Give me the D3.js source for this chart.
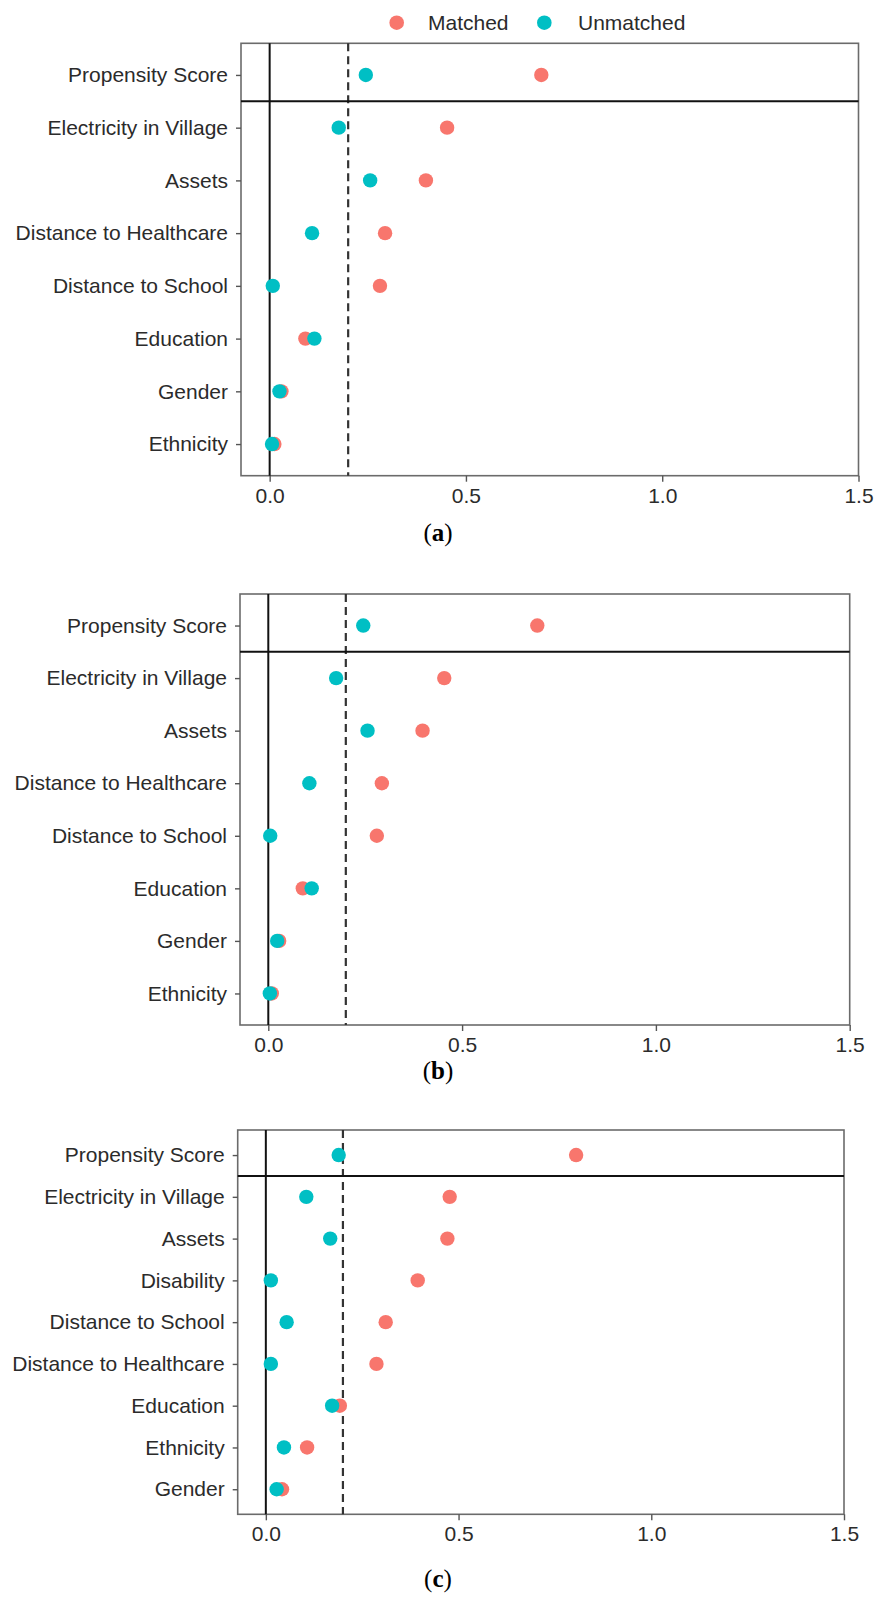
<!DOCTYPE html>
<html>
<head>
<meta charset="utf-8">
<script src="https://cdn.jsdelivr.net/npm/d3@7"></script>
<style>
  body { margin: 0; background: #fff; }
  svg { display: block; font-family: "Liberation Sans", Arial, sans-serif; }
  .lbl { fill: #2b2b2b; font-size: 21px; }
  .caption { font-family: "Liberation Serif", "DejaVu Serif", serif; font-size: 25px; fill: #000; }
</style>
</head>
<body>
<svg id="chart"></svg>
<script>
// covariates, top to bottom, per panel
const covariatesA = ["Propensity Score", "Electricity in Village", "Assets", "Distance to Healthcare",
  "Distance to School", "Education", "Gender", "Ethnicity"];
const matchedA   = [0.692, 0.452, 0.398, 0.294, 0.281, 0.091, 0.030, 0.012];
const unmatchedA = [0.245, 0.176, 0.256, 0.108, 0.008, 0.114, 0.025, 0.006];

const covariatesB = covariatesA;
const matchedB   = [0.694, 0.454, 0.398, 0.293, 0.280, 0.089, 0.028, 0.009];
const unmatchedB = [0.245, 0.175, 0.256, 0.106, 0.005, 0.112, 0.023, 0.004];

const covariatesC = ["Propensity Score", "Electricity in Village", "Assets", "Disability",
  "Distance to School", "Distance to Healthcare", "Education", "Ethnicity", "Gender"];
const matchedC   = [0.805, 0.477, 0.471, 0.394, 0.311, 0.287, 0.192, 0.107, 0.042];
const unmatchedC = [0.189, 0.105, 0.167, 0.013, 0.054, 0.013, 0.172, 0.047, 0.028];

const xTicks = [0, 0.5, 1.0, 1.5];
const threshold = 0.2;
const seriesNames = ["Matched", "Unmatched"];
const COLORS = {Matched: "#F8766D", Unmatched: "#00BFC4"};

const W = 876, H = 1598;
const svg = d3.select("#chart").attr("width", W).attr("height", H);

// legend
const legend = svg.append("g").attr("class", "legend");
const legendX = [{c: 396.7, t: 428}, {c: 544.3, t: 578}];
seriesNames.forEach((name, i) => {
  legend.append("circle")
    .attr("cx", legendX[i].c).attr("cy", 22.7).attr("r", 7.3)
    .attr("fill", COLORS[name]);
  legend.append("text")
    .attr("class", "lbl")
    .attr("x", legendX[i].t).attr("y", 22.7)
    .attr("dominant-baseline", "central")
    .attr("fill", "#222")
    .text(name);
});

function panel({cats, matched, unmatched, left, right, top, bottom, caption, captionY}) {
  const g = svg.append("g");

  const x = d3.scaleLinear().domain([-0.073, 1.5]).range([left, right]);
  const y = d3.scalePoint().domain(cats).range([top, bottom]).padding(0.6);

  // box
  g.append("rect")
    .attr("x", left).attr("y", top)
    .attr("width", right - left).attr("height", bottom - top)
    .attr("fill", "none").attr("stroke", "#6b6b6b").attr("stroke-width", 1.6);

  // y axis (labels + ticks)
  const yAxis = g.append("g")
    .attr("transform", `translate(${left},0)`)
    .call(d3.axisLeft(y).tickSize(5).tickPadding(8).tickSizeOuter(0));
  yAxis.select(".domain").remove();
  yAxis.selectAll("line").attr("stroke", "#555").attr("stroke-width", 1.4);
  yAxis.selectAll("text").attr("class", "lbl").attr("font-size", null).attr("font-family", null);

  // x axis
  const xAxis = g.append("g")
    .attr("transform", `translate(0,${bottom})`)
    .call(d3.axisBottom(x).tickValues(xTicks).tickFormat(d3.format(".1f")).tickSize(6).tickPadding(6).tickSizeOuter(0));
  xAxis.select(".domain").remove();
  xAxis.selectAll("line").attr("stroke", "#555").attr("stroke-width", 1.4);
  xAxis.selectAll("text").attr("class", "lbl").attr("font-size", null).attr("font-family", null);

  // zero line
  g.append("line")
    .attr("x1", x(0)).attr("x2", x(0)).attr("y1", top).attr("y2", bottom)
    .attr("stroke", "#111").attr("stroke-width", 2);

  // threshold
  g.append("line")
    .attr("x1", x(threshold)).attr("x2", x(threshold)).attr("y1", top).attr("y2", bottom)
    .attr("stroke", "#333").attr("stroke-width", 2.2).attr("stroke-dasharray", "8,5");

  // separator below propensity score
  const sepY = (y(cats[0]) + y(cats[1])) / 2;
  g.append("line")
    .attr("x1", left).attr("x2", right).attr("y1", sepY).attr("y2", sepY)
    .attr("stroke", "#111").attr("stroke-width", 2);

  // points: matched first, unmatched on top
  [["Matched", matched], ["Unmatched", unmatched]].forEach(([name, vals]) => {
    g.append("g").selectAll("circle")
      .data(cats.map((c, i) => ({c, v: vals[i]})))
      .join("circle")
      .attr("cx", d => x(d.v))
      .attr("cy", d => y(d.c))
      .attr("r", 7.2)
      .attr("fill", COLORS[name]);
  });

  // caption
  const cap = svg.append("text")
    .attr("class", "caption")
    .attr("x", 438).attr("y", captionY)
    .attr("text-anchor", "middle")
    .attr("dominant-baseline", "central");
  cap.append("tspan").text("(");
  cap.append("tspan").attr("font-weight", "bold").text(caption);
  cap.append("tspan").text(")");
}

panel({cats: covariatesA, matched: matchedA, unmatched: unmatchedA,
  left: 241, right: 858.5, top: 43.3, bottom: 475.7, caption: "a", captionY: 532});
panel({cats: covariatesB, matched: matchedB, unmatched: unmatchedB,
  left: 240, right: 849.7, top: 594, bottom: 1025, caption: "b", captionY: 1070});
panel({cats: covariatesC, matched: matchedC, unmatched: unmatchedC,
  left: 237.7, right: 844, top: 1130, bottom: 1514.3, caption: "c", captionY: 1578});
</script>
</body>
</html>
